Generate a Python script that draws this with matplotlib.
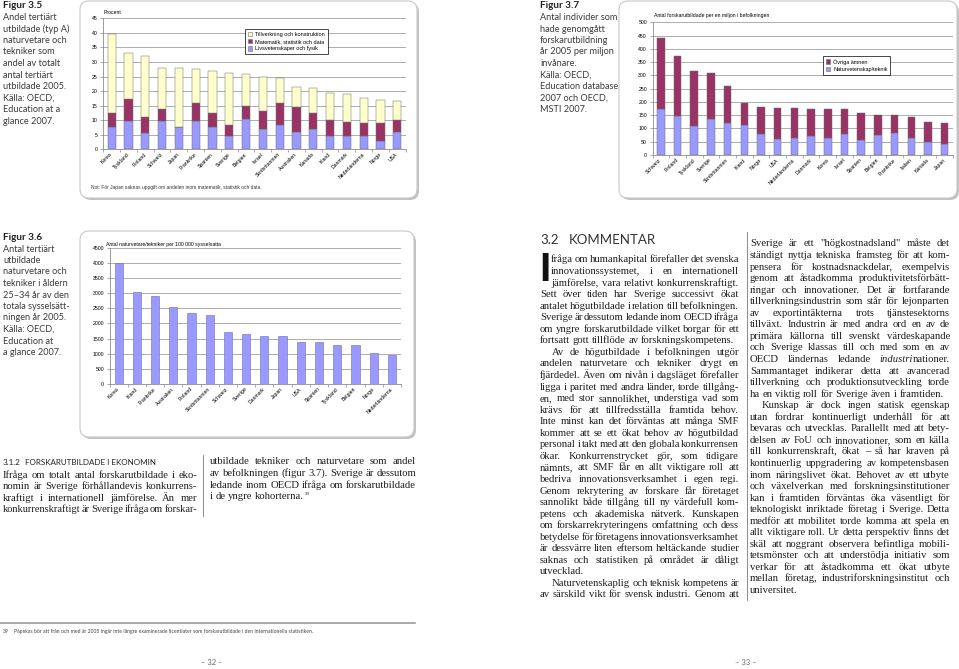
import numpy as np
import matplotlib
matplotlib.use("Agg")
import matplotlib.pyplot as plt
from matplotlib.patches import FancyBboxPatch, Patch

plt.rcParams["font.family"] = "Liberation Sans"

W, H = 959, 669
SERIF = "Liberation Serif"
HUMAN = "Lato"

BLUE = "#9999ff"
PLUM = "#993366"
CREAM = "#ffffcc"
EDGE = "#6e6e6e"
GRID = "#a0a0a0"
AXIS = "#8c8c8c"
INK = "#1e1e1e"

# ---------------- data: Figur 3.5 (procent) ----------------
countries_35 = ["Korea", "Tyskland", "Finland", "Schweiz", "Japan", "Frankrike",
                "Spanien", "Sverige", "Belgien", "Israel", "Storbritannien",
                "Australien", "Kanada", "Irland", "Danmark", "Nederländerna",
                "Norge", "USA"]
livs_35 = [7.5, 9.6, 5.5, 9.6, 7.8, 9.6, 7.5, 4.5, 10.3, 6.9, 8.5, 5.9, 7.0,
           4.5, 4.5, 4.7, 3.0, 5.8]
mat_35 = [5.1, 7.6, 5.5, 4.4, 0.0, 6.3, 5.1, 3.8, 4.5, 6.1, 7.4, 8.5, 5.6,
          5.7, 4.8, 4.3, 6.2, 4.4]
tillv_35 = [26.9, 16.0, 21.2, 14.0, 20.0, 11.8, 14.2, 18.0, 10.9, 11.8, 8.5,
            7.1, 8.4, 9.3, 9.7, 8.6, 7.8, 6.5]
labels_35 = ["Tillverkning och konstruktion", "Matematik, statistik och data",
             "Livsvetenskaper och fysik"]

# ---------------- data: Figur 3.7 (per miljon) ----------------
countries_37 = ["Schweiz", "Finland", "Tyskland", "Sverige", "Storbritannien",
                "Irland", "Norge", "USA", "Nederländerna", "Danmark", "Korea",
                "Israel", "Spanien", "Belgien", "Frankrike", "Italien", "Kanada",
                "Japan"]
natur_37 = [173, 148, 109, 134, 119, 113, 78, 62, 64, 73, 63, 80, 58, 77, 84,
            63, 50, 43]
ovriga_37 = [267, 225, 208, 174, 141, 82, 102, 114, 112, 100, 110, 92, 99, 74,
             67, 79, 76, 76]
labels_37 = ["Övriga ämnen", "Naturvetenskap/teknik"]

# ---------------- data: Figur 3.6 (per 100 000) ----------------
countries_36 = ["Korea", "Irland", "Frankrike", "Australien", "Finland",
                "Storbritannien", "Schweiz", "Sverige", "Danmark", "Japan", "USA",
                "Spanien", "Tyskland", "Belgien", "Norge", "Nederländerna"]
values_36 = [4000, 3030, 2910, 2550, 2340, 2270, 1730, 1640, 1590, 1590, 1400,
             1380, 1300, 1300, 1010, 950]

# ---------------- captions and body text ----------------
cap_35 = ["Andel tertiärt", "utbildade (typ A)", "naturvetare och", "tekniker som",
          "andel av totalt", "antal tertiärt", "utbildade 2005.", "Källa: OECD,",
          "Education at a", "glance 2007."]
cap_37 = ["Antal individer som", "hade genomgått", "forskarutbildning",
          "år 2005 per miljon", "invånare.", "Källa: OECD,", "Education database",
          "2007 och OECD,", "MSTI 2007."]
cap_36 = ["Antal tertiärt", "utbildade", "naturvetare och", "tekniker i åldern",
          "25–34 år av den", "totala sysselsätt-", "ningen år 2005.",
          "Källa: OECD,", "Education at", "a glance 2007."]

left_paras = [
    (11, 3, ["fråga om humankapital förefaller det svenska",
             "innovationssystemet, i en internationell",
             "jämförelse, vara relativt konkurrenskraftigt.",
             "Sett över tiden har Sverige successivt ökat",
             "antalet högutbildade i relation till befolkningen.",
             "Sverige är dessutom ledande inom OECD ifråga",
             "om yngre forskarutbildade vilket borgar för ett",
             "fortsatt gott tillflöde av forskningskompetens."], False),
    (12, 1, ["Av de högutbildade i befolkningen utgör",
             "andelen naturvetare och tekniker drygt en",
             "fjärdedel. Även om nivån i dagsläget förefaller",
             "ligga i paritet med andra länder, torde tillgång-",
             "en, med stor sannolikhet, understiga vad som",
             "krävs för att tillfredsställa framtida behov.",
             "Inte minst kan det förväntas att många SMF",
             "kommer att se ett ökat behov av högutbildad",
             "personal i takt med att den globala konkurrensen",
             "ökar. Konkurrenstrycket gör, som tidigare",
             "nämnts, att SMF får en allt viktigare roll att",
             "bedriva innovationsverksamhet i egen regi.",
             "Genom rekrytering av forskare får företaget",
             "sannolikt både tillgång till ny värdefull kom-",
             "petens och akademiska nätverk. Kunskapen",
             "om forskarrekryteringens omfattning och dess",
             "betydelse för företagens innovationsverksamhet",
             "är dessvärre liten eftersom heltäckande studier",
             "saknas och statistiken på området är dåligt",
             "utvecklad."], False),
    (12, 1, ["Naturvetenskaplig och teknisk kompetens är",
             "av särskild vikt för svensk industri. Genom att"], True),
]

right_paras = [
    (0, 0, ['Sverige är ett "högkostnadsland" måste det',
            "ständigt nyttja tekniska framsteg för att kom-",
            "pensera för kostnadsnackdelar, exempelvis",
            "genom att åstadkomma produktivitetsförbätt-",
            "ringar och innovationer. Det är fortfarande",
            "tillverkningsindustrin som står för lejonparten",
            "av exportintäkterna trots tjänstesektorns",
            "tillväxt. Industrin är med andra ord en av de",
            "primära källorna till svenskt värdeskapande",
            "och Sverige klassas till och med som en av",
            "OECD ländernas ledande *industri*nationer.",
            "Sammantaget indikerar detta att avancerad",
            "tillverkning och produktionsutveckling torde",
            "ha en viktig roll för Sverige även i framtiden."], False),
    (12, 1, ["Kunskap är dock ingen statisk egenskap",
             "utan fordrar kontinuerligt underhåll för att",
             "bevaras och utvecklas. Parallellt med att bety-",
             "delsen av FoU och innovationer, som en källa",
             "till konkurrenskraft, ökat – så har kraven på",
             "kontinuerlig uppgradering av kompetensbasen",
             "inom näringslivet ökat. Behovet av ett utbyte",
             "och växelverkan med forskningsinstitutioner",
             "kan i framtiden förväntas öka väsentligt för",
             "teknologiskt inriktade företag i Sverige. Detta",
             "medför att mobilitet torde komma att spela en",
             "allt viktigare roll. Ur detta perspektiv finns det",
             "skäl att noggrant observera befintliga mobili-",
             "tetsmönster och att understödja initiativ som",
             "verkar för att åstadkomma ett ökat utbyte",
             "mellan företag, industriforskningsinstitut och",
             "universitet."], False),
]

sub_left = [(0, 0, ["Ifråga om totalt antal forskarutbildade i eko-",
                    "nomin är Sverige förhållandevis konkurrens-",
                    "kraftigt i internationell jämförelse. Än mer",
                    "konkurrenskraftigt är Sverige ifråga om forskar-"], True)]
sub_right = [(0, 0, ["utbildade tekniker och naturvetare som andel",
                     "av befolkningen (figur 3.7). Sverige är dessutom",
                     "ledande inom OECD ifråga om forskarutbildade",
                     "i de yngre kohorterna."], False)]

footnote = ("Påpekas bör att från och med år 2005 ingår inte längre examinerade "
            "licentiater som forskarutbildade i den internationella statistiken.")


# ---------------- page canvas (pixel coordinates, y down) ----------------
fig = plt.figure(figsize=(W / 100, H / 100), dpi=100)
fig.patch.set_facecolor("white")
bg = fig.add_axes([0, 0, 1, 1], zorder=-10)
bg.set_xlim(0, W)
bg.set_ylim(H, 0)
bg.axis("off")
renderer = fig.canvas.get_renderer()

_widths = {}


def text_w(s, size, family=SERIF, style="normal"):
    key = (s, size, family, style)
    if key not in _widths:
        t = bg.text(0, 0, s, fontsize=size, family=family, style=style)
        _widths[key] = t.get_window_extent(renderer).width
        t.remove()
    return _widths[key]


def segs(word):
    parts = word.split("*")
    return [(p, "italic" if i % 2 else "normal") for i, p in enumerate(parts) if p]


def measure(words, size):
    return [[text_w(s, size, style=st) for s, st in w] for w in words]


def put_line(x, y, line, width, justify, size):
    words = [segs(w) for w in line.split(" ")]
    n_gaps = max(len(words) - 1, 1)
    wl = measure(words, size)
    tot = sum(sum(a) for a in wl)
    space = text_w("n n", size) - text_w("nn", size)
    # squeeze spaces first; shrink the type only if that is not enough
    if tot + n_gaps * 0.6 * space > width:
        size = size * width / (tot + n_gaps * 0.6 * space)
        wl = measure(words, size)
        tot = sum(sum(a) for a in wl)
        space = text_w("n n", size) - text_w("nn", size)
    gap = min(space, (width - tot) / n_gaps)
    if justify and len(words) > 1:
        gap = (width - tot) / n_gaps
    cx = x
    for w, ws in zip(words, wl):
        for (s, st), sw in zip(w, ws):
            bg.text(cx, y, s, fontsize=size, family=SERIF, style=st, color=INK,
                    va="baseline", ha="left")
            cx += sw
        cx += gap
    return cx - gap


def layout(paras):
    out = []
    for indent, n_ind, lines, keep in paras:
        for i, s in enumerate(lines):
            last = i == len(lines) - 1
            out.append((s, indent if i < n_ind else 0, keep or not last))
    return out


def column(x, y0, width, lh, paras, size):
    end = None
    for i, (s, ind, just) in enumerate(layout(paras)):
        y = y0 + i * lh
        end = (put_line(x + ind, y, s, width - ind, just, size), y)
    return end


def caption(x, y, head, lines):
    bg.text(x, y, head, fontsize=7.2, family=HUMAN, weight="bold", color="#222222",
            va="baseline")
    for i, s in enumerate(lines):
        bg.text(x, y + 11.5 * (i + 1), s, fontsize=6.6, family=HUMAN,
                color="#3a3a3a", va="baseline")


def card(x0, y0, x1, y1):
    bg.add_patch(FancyBboxPatch((x0 + 2, y0 + 2), x1 - x0, y1 - y0,
                                boxstyle="round,pad=0,rounding_size=9",
                                fc="#c2c2c2", ec="none"))
    bg.add_patch(FancyBboxPatch((x0, y0), x1 - x0, y1 - y0,
                                boxstyle="round,pad=0,rounding_size=9",
                                fc="white", ec="#c8c8c8", lw=0.8))


def chart_axes(left, top, right, bottom):
    return fig.add_axes([left / W, 1 - bottom / H, (right - left) / W,
                         (bottom - top) / H])


def fig_text(x, y, s, size=3.7, **kw):
    fig.text(x / W, 1 - y / H, s, fontsize=size, va="center", ha="left", **kw)


def style_chart(ax, names, ymax, ystep):
    n = len(names)
    ax.set_xlim(-0.5, n - 0.5)
    ax.set_ylim(0, ymax)
    ax.set_yticks(np.arange(0, ymax + 1, ystep))
    ax.yaxis.grid(True, color=GRID, lw=0.6)
    ax.set_axisbelow(True)
    for s in ("top", "right"):
        ax.spines[s].set_visible(False)
    for s in ("left", "bottom"):
        ax.spines[s].set_color(AXIS)
        ax.spines[s].set_linewidth(0.6)
    ax.set_xticks(range(n))
    ax.set_xticklabels(names, rotation=45, ha="right", va="center",
                       rotation_mode="anchor", fontsize=3.7)
    ax.set_xticks(np.arange(-0.5, n), minor=True)
    ax.tick_params(axis="x", which="major", length=0, pad=3)
    ax.tick_params(axis="x", which="minor", length=2, width=0.5, color=AXIS)
    ax.tick_params(axis="y", length=2, width=0.5, color=AXIS, labelsize=3.7, pad=2)


def chart_legend(handles, x, y):
    leg = fig.legend(handles=handles, loc="upper left",
                     bbox_to_anchor=(x / W, 1 - y / H), fontsize=4.0,
                     frameon=True, fancybox=False, edgecolor="black",
                     facecolor="white", framealpha=1, borderpad=0.5,
                     handlelength=0.8, handleheight=0.8, handletextpad=0.5,
                     labelspacing=0.4, borderaxespad=0)
    leg.get_frame().set_linewidth(0.5)


# ---------------- chart cards ----------------
card(80, 1, 417, 198)
card(619, 1, 957, 198)
card(80, 231, 414, 437)

# Figur 3.5
ax5 = chart_axes(103.3, 18.3, 405.7, 149.3)
x5 = np.arange(len(countries_35))
b_l = np.array(livs_35)
b_m = np.array(mat_35)
b_t = np.array(tillv_35)
ax5.bar(x5, b_l, 0.48, color=BLUE, ec=EDGE, lw=0.35)
ax5.bar(x5, b_m, 0.48, bottom=b_l, color=PLUM, ec=EDGE, lw=0.35)
ax5.bar(x5, b_t, 0.48, bottom=b_l + b_m, color=CREAM, ec=EDGE, lw=0.35)
style_chart(ax5, countries_35, 45, 5)
fig_text(104, 12.5, "Procent")
chart_legend([Patch(fc=CREAM, ec=EDGE, lw=0.4, label=labels_35[0]),
              Patch(fc=PLUM, ec=EDGE, lw=0.4, label=labels_35[1]),
              Patch(fc=BLUE, ec=EDGE, lw=0.4, label=labels_35[2])], 245, 29)
fig_text(91, 187, "Not: För Japan saknas uppgift om andelen inom matematik, "
         "statistik och data.", size=3.5, color="#333333")

# Figur 3.7
ax7 = chart_axes(652.5, 22.3, 953, 155)
x7 = np.arange(len(countries_37))
n7 = np.array(natur_37)
ax7.bar(x7, n7, 0.45, color=BLUE, ec=EDGE, lw=0.35)
ax7.bar(x7, ovriga_37, 0.45, bottom=n7, color=PLUM, ec=EDGE, lw=0.35)
style_chart(ax7, countries_37, 500, 50)
fig_text(654, 16, "Antal forskarutbildade per en miljon i befolkningen")
chart_legend([Patch(fc=PLUM, ec=EDGE, lw=0.4, label=labels_37[0]),
              Patch(fc=BLUE, ec=EDGE, lw=0.4, label=labels_37[1])], 823, 56)

# Figur 3.6
ax6 = chart_axes(109.5, 247.7, 401, 384)
x6 = np.arange(len(countries_36))
ax6.bar(x6, values_36, 0.45, color=BLUE, ec="#6a6ab8", lw=0.4)
style_chart(ax6, countries_36, 4500, 500)
fig_text(106, 244.5, "Antal naturvetare/tekniker per 100 000 sysselsatta")

# ---------------- captions ----------------
caption(3, 8.5, "Figur 3.5", cap_35)
caption(540, 8.5, "Figur 3.7", cap_37)
caption(3, 240, "Figur 3.6", cap_36)

# ---------------- section 3.1.2 ----------------
bg.text(3, 465, "3.1.2", fontsize=5.8, family=HUMAN, color="#222222", va="baseline")
bg.text(25, 465, "FORSKARUTBILDADE I EKONOMIN", fontsize=5.8, family=HUMAN,
        color="#222222", va="baseline")
column(3, 477.5, 194, 11.6, sub_left, 7.7)
ex, ey = column(210, 464.5, 206, 11.6, sub_right, 7.7)
bg.text(ex + 1, ey - 4, "39", fontsize=3.6, family=SERIF, color=INK,
        va="baseline")
bg.plot([203, 203], [455, 516], color="#777777", lw=0.6)

# ---------------- section 3.2 ----------------
bg.text(540, 244, "3.2", fontsize=9.5, family=HUMAN, color="#333333",
        va="baseline")
bg.text(569, 244, "KOMMENTAR", fontsize=9.5, family=HUMAN, color="#333333",
        va="baseline")
bg.text(539, 281, "I", fontsize=29, family="Liberation Sans", weight="bold",
        color="#111111", va="baseline")
column(540, 262.5, 199, 11.55, left_paras, 7.7)
column(750, 246.5, 200, 11.55, right_paras, 7.7)
bg.plot([747, 747], [232, 600], color="#777777", lw=0.6)

# ---------------- footnote & page numbers ----------------
bg.plot([0, 415], [623, 623], color="#9a9a9a", lw=1.2)
bg.text(3, 633, "39", fontsize=3.7, family=HUMAN, color="#444444", va="baseline")
bg.text(14, 633, footnote, fontsize=3.7, family=HUMAN, color="#444444",
        va="baseline")
bg.text(212, 665, "– 32 –", fontsize=5.5, family=HUMAN, color="#666666",
        ha="center", va="baseline")
bg.text(746, 665, "– 33 –", fontsize=5.5, family=HUMAN, color="#666666",
        ha="center", va="baseline")

fig.savefig("out.png", dpi=100, facecolor="white")
